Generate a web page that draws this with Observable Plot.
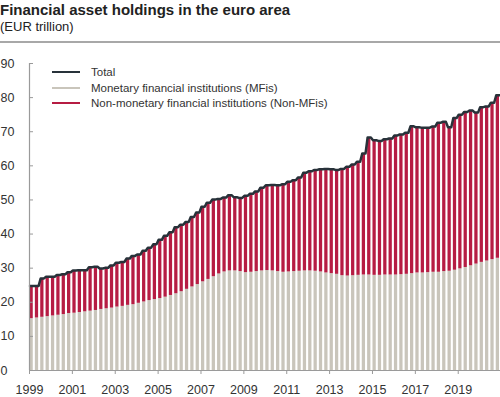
<!DOCTYPE html>
<html>
<head>
<meta charset="utf-8">
<script src="https://cdn.jsdelivr.net/npm/d3@7"></script>
<script src="https://cdn.jsdelivr.net/npm/@observablehq/plot@0.6"></script>
<style>
  body { margin: 0; background: #fff; font-family: "Liberation Sans", Arial, sans-serif; color: #333; }
  #wrap { position: relative; width: 500px; height: 397px; overflow: hidden; }
  #title { position: absolute; left: 0; top: 1px; font-weight: bold; font-size: 15px; color: #222; white-space: nowrap; }
  #sub { position: absolute; left: 0; top: 19px; font-size: 13px; color: #222; white-space: nowrap; }
  #rule { position: absolute; left: 0; top: 41px; width: 500px; height: 2px; background: #a8a8a8; }
  #chart { position: absolute; left: 0; top: 45px; }
  #legend { position: absolute; left: 52px; top: 65px; font-size: 11.5px; color: #333; }
  .row { height: 15.7px; line-height: 15.7px; white-space: nowrap; }
  .sw { display: inline-block; width: 28px; height: 2px; vertical-align: middle; margin-right: 11px; position: relative; top: -1px; }
</style>
</head>
<body>
<div id="wrap">
  <div id="title">Financial asset holdings in the euro area</div>
  <div id="sub">(EUR trillion)</div>
  <div id="rule"></div>
  <div id="chart"></div>
  <div id="legend"></div>
</div>
<script>
// ---- data (EUR trillion), quarterly 1999Q1 – 2020Q4 ----
const startYear = 1999;
const seriesNames = ["Total", "Monetary financial institutions (MFis)", "Non-monetary financial institutions (Non-MFis)"];
const seriesColors = ["#28323a", "#c9c5bb", "#b61c43"];

const total = [
  24.8, 24.8, 27.0, 27.5, 27.5, 28.0, 28.2, 28.8,
  29.3, 29.4, 29.4, 30.3, 30.4, 29.9, 30.1, 30.8,
  31.6, 31.8, 32.8, 33.6, 34.0, 35.1, 36.0, 37.0,
  38.3, 39.5, 40.5, 42.0, 42.7, 43.5, 45.0, 46.3,
  48.0, 49.2, 50.1, 50.3, 50.7, 51.4, 50.8, 50.6,
  51.2, 51.8, 52.5, 53.6, 54.3, 54.4, 54.3, 54.6,
  55.3, 55.8, 56.6, 58.0, 58.4, 58.8, 59.0, 59.1,
  59.0, 58.8, 59.1, 59.7, 60.4, 61.2, 63.6, 68.3,
  67.5, 67.3, 67.8, 68.0, 68.9, 69.2, 69.7, 71.6,
  71.3, 71.2, 71.2, 71.5, 72.6, 72.9, 71.3, 74.0,
  75.0, 75.8, 76.2, 75.6, 77.2, 77.4, 78.5, 80.7
];

const mfi = [
  15.2, 15.4, 15.6, 15.8, 16.0, 16.2, 16.4, 16.7,
  16.8, 17.0, 17.2, 17.4, 17.6, 17.9, 18.1, 18.3,
  18.6, 18.8, 19.1, 19.3, 19.7, 20.1, 20.5, 20.8,
  21.1, 21.5, 22.0, 22.5, 23.1, 23.8, 24.5, 25.2,
  26.0, 26.7, 27.5, 28.3, 28.9, 29.2, 29.2, 29.0,
  28.7, 28.8, 29.0, 29.2, 29.3, 29.2, 29.0, 28.8,
  28.9, 29.0, 29.1, 29.2, 29.2, 29.1, 28.9, 28.6,
  28.4, 28.2, 27.8, 27.7, 27.8, 27.9, 28.0, 28.0,
  27.9, 27.9, 28.0, 28.0, 28.0, 28.1, 28.2, 28.4,
  28.6, 28.6, 28.7, 28.8, 28.8, 29.0, 29.1, 29.4,
  29.8, 30.2, 30.7, 31.2, 31.7, 32.1, 32.5, 32.9
];

const xTicks = [1999, 2001, 2003, 2005, 2007, 2009, 2011, 2013, 2015, 2017, 2019];
const yTicks = [0, 10, 20, 30, 40, 50, 60, 70, 80, 90];

// ---- table built from the arrays ----
const data = total.map((v, i) => ({ t: startYear + i / 4, total: v, mfi: mfi[i] }));
const linePts = data.flatMap(d => [{ t: d.t + 0.023, v: d.total }, { t: d.t + 0.175, v: d.total }]);

const W = 500, H = 352, ML = 29, MR = 0;
const axisGray = "#9a9a9a";

const chart = Plot.plot({
  width: W, height: H,
  marginLeft: ML, marginRight: MR, marginTop: 18, marginBottom: 27,
  style: { fontFamily: "Liberation Sans, Arial, sans-serif", fontSize: "12.5px", color: "#333", background: "#fff" },
  x: { domain: [1999, 2021], range: [29, 500.6] },
  y: { domain: [0, 90] },
  marks: [
    Plot.rectY(data, { x1: "t", x2: d => d.t + 0.25, y1: 0, y2: "mfi", fill: seriesColors[1], insetLeft: 0.5, insetRight: 1.6 }),
    Plot.rectY(data, { x1: "t", x2: d => d.t + 0.25, y1: "mfi", y2: "total", fill: seriesColors[2], insetLeft: 0.5, insetRight: 1.6 }),
    Plot.line(linePts, { x: "t", y: "v", stroke: seriesColors[0], strokeWidth: 2.5, strokeLinejoin: "round", strokeLinecap: "round" }),
    Plot.ruleY(yTicks.slice(1), { stroke: axisGray, strokeWidth: 1, insetRight: (W - ML - MR) - 4 }),
    Plot.ruleY([0], { stroke: axisGray, strokeWidth: 1.2 }),
    Plot.ruleX([1999], { stroke: axisGray, strokeWidth: 1.2 }),
    Plot.axisY({ ticks: yTicks, anchor: "left", tickSize: 0, tickPadding: ML, textAnchor: "start", tickFormat: d => String(d), fill: "#333", fontSize: 12.5, label: null }),
    Plot.axisX({ ticks: xTicks, anchor: "bottom", tickSize: 4, tickPadding: 10.5, tickFormat: d => String(d), stroke: axisGray, fill: "#333", fontSize: 12.5, label: null })
  ]
});
document.getElementById("chart").appendChild(chart);

// ---- legend ----
const legend = document.getElementById("legend");
seriesNames.forEach((name, i) => {
  const row = document.createElement("div");
  row.className = "row";
  const sw = document.createElement("span");
  sw.className = "sw";
  sw.style.background = seriesColors[i];
  row.appendChild(sw);
  row.appendChild(document.createTextNode(name));
  legend.appendChild(row);
});
</script>
</body>
</html>
